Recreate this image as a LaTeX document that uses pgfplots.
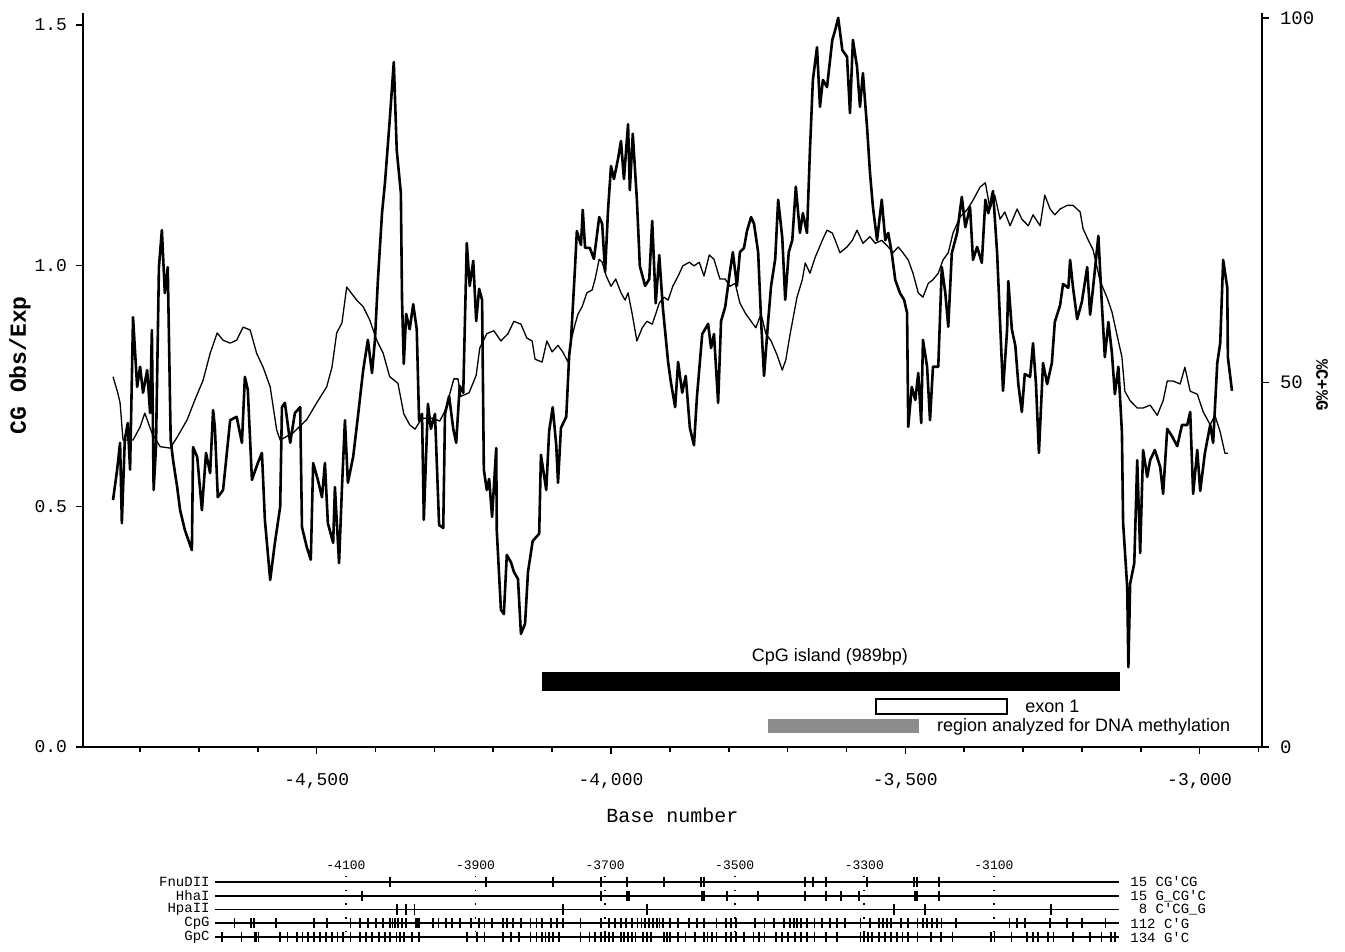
\documentclass[border=0pt]{standalone}
\usepackage{fontspec}
\setmainfont{Liberation Sans}
\setmonofont{Liberation Mono}
\usepackage{pgfplots}
\pgfplotsset{compat=1.18}
\begin{document}
\begin{tikzpicture}[x=1pt,y=1pt]
\path[use as bounding box] (0,0) rectangle (672.5,476);
% ---------------- main plot, left axis (CG Obs/Exp) ----------------
\begin{axis}[
  at={(41.5pt,102.5pt)}, anchor=south west,
  scale only axis, width=589.5pt, height=367pt,
  xmin=-4897, xmax=-2894, ymin=0, ymax=1.525,
  axis x line*=bottom, axis y line*=left,
  axis line style={-, line width=1.1pt},
  xtick={-4500,-4000,-3500,-3000},
  xticklabels={{-4,500},{-4,000},{-3,500},{-3,000}},
  minor xtick={-4800,-4700,-4600,-4400,-4300,-4200,-4100,-3900,-3800,-3700,-3600,-3400,-3300,-3200,-3100,-2900},
  ytick={0,0.5,1,1.5}, yticklabels={0.0,0.5,1.0,1.5},
  tick align=outside, major tick length=3.5pt, minor tick length=2.5pt,
  tick style={line width=0.8pt, black},
  ticklabel style={font=\ttfamily\fontsize{9}{10}\selectfont},
  xticklabel style={yshift=-6pt},
  yticklabel style={xshift=-1pt},
  clip=false,
  xlabel={Base number},
  every axis x label/.style={at={(axis description cs:0.5,0)}, anchor=center, yshift=-34pt, font=\ttfamily\fontsize{10}{12}\selectfont},
  ylabel={CG Obs/Exp},
  every axis y label/.style={at={(axis description cs:-0.0534,0.52)}, anchor=center, rotate=90, font=\ttfamily\bfseries\fontsize{11.5}{13}\selectfont},
]
\addplot[black, line width=1.3pt, line join=round] coordinates {
(-4846,0.513) (-4839,0.576) (-4834,0.632) (-4831,0.465) (-4826,0.638) (-4821,0.673) (-4817,0.576) (-4812,0.893)
(-4809,0.831) (-4805,0.748) (-4800,0.790) (-4795,0.736) (-4788,0.783) (-4783,0.694) (-4780,0.866) (-4777,0.534)
(-4773,0.623) (-4768,0.997) (-4763,1.074) (-4758,0.943) (-4753,0.997) (-4748,0.638) (-4744,0.596) (-4737,0.540)
(-4732,0.492) (-4724,0.451) (-4712,0.409) (-4710,0.623) (-4703,0.603) (-4695,0.492) (-4688,0.611) (-4681,0.569)
(-4676,0.700) (-4673,0.665) (-4668,0.519) (-4659,0.534) (-4647,0.679) (-4636,0.686) (-4627,0.632) (-4622,0.769)
(-4617,0.742) (-4610,0.555) (-4600,0.590) (-4593,0.611) (-4588,0.472) (-4579,0.347) (-4571,0.424) (-4562,0.499)
(-4559,0.706) (-4554,0.715) (-4545,0.632) (-4537,0.694) (-4528,0.706) (-4525,0.457) (-4517,0.416) (-4510,0.389)
(-4506,0.590) (-4498,0.555) (-4491,0.519) (-4486,0.590) (-4481,0.465) (-4472,0.424) (-4469,0.540) (-4462,0.382)
(-4457,0.540) (-4452,0.679) (-4447,0.549) (-4438,0.603) (-4430,0.686) (-4421,0.783) (-4413,0.846) (-4406,0.777)
(-4401,0.846) (-4396,0.970) (-4389,1.109) (-4384,1.172) (-4376,1.301) (-4369,1.423) (-4364,1.240) (-4357,1.151)
(-4355,0.929) (-4352,0.796) (-4348,0.900) (-4342,0.868) (-4336,0.920) (-4330,0.868) (-4326,0.677) (-4321,0.692)
(-4318,0.472) (-4311,0.713) (-4306,0.661) (-4299,0.692) (-4292,0.461) (-4285,0.455) (-4282,0.692) (-4275,0.729)
(-4268,0.661) (-4263,0.632) (-4257,0.750) (-4251,0.736) (-4245,1.047) (-4240,0.958) (-4234,1.010) (-4229,0.885)
(-4224,0.952) (-4219,0.929) (-4216,0.576) (-4211,0.534) (-4207,0.557) (-4202,0.478) (-4195,0.621) (-4194,0.449)
(-4187,0.285) (-4182,0.276) (-4177,0.399) (-4170,0.384) (-4165,0.364) (-4158,0.349) (-4153,0.235) (-4146,0.256)
(-4141,0.364) (-4133,0.428) (-4122,0.443) (-4119,0.607) (-4110,0.534) (-4105,0.657) (-4099,0.706) (-4093,0.627)
(-4090,0.549) (-4085,0.663) (-4076,0.686) (-4071,0.814) (-4068,0.844) (-4061,0.999) (-4058,1.072) (-4051,1.043)
(-4048,1.116) (-4044,1.037) (-4036,1.037) (-4029,1.014) (-4020,1.101) (-4015,1.087) (-4010,0.987) (-4005,1.116)
(-4000,1.207) (-3995,1.180) (-3988,1.222) (-3983,1.259) (-3978,1.180) (-3971,1.294) (-3968,1.157) (-3963,1.274)
(-3956,1.137) (-3951,0.999) (-3942,0.958) (-3935,0.972) (-3930,1.093) (-3924,0.922) (-3918,1.022) (-3912,0.914)
(-3903,0.800) (-3898,0.756) (-3891,0.706) (-3886,0.800) (-3879,0.736) (-3873,0.771) (-3866,0.663) (-3859,0.627)
(-3854,0.727) (-3845,0.858) (-3835,0.879) (-3830,0.829) (-3825,0.858) (-3818,0.715) (-3813,0.885) (-3806,0.914)
(-3798,0.987) (-3793,1.028) (-3786,0.958) (-3781,1.028) (-3774,1.037) (-3769,1.072) (-3762,1.101) (-3757,1.087)
(-3750,1.028) (-3745,0.885) (-3740,0.771) (-3733,0.885) (-3728,0.958) (-3721,1.014) (-3716,1.137) (-3709,1.058)
(-3704,0.929) (-3698,1.028) (-3692,1.053) (-3686,1.164) (-3679,1.068) (-3674,1.109) (-3667,1.068) (-3662,1.240)
(-3657,1.386) (-3650,1.454) (-3645,1.330) (-3640,1.386) (-3633,1.371) (-3624,1.469) (-3619,1.490) (-3614,1.515)
(-3607,1.448) (-3599,1.434) (-3594,1.317) (-3589,1.469) (-3582,1.413) (-3577,1.330) (-3572,1.400) (-3565,1.288)
(-3560,1.193) (-3555,1.122) (-3548,1.053) (-3540,1.137) (-3534,1.053) (-3529,1.068) (-3523,1.026) (-3517,0.970)
(-3509,0.943) (-3502,0.929) (-3497,0.902) (-3495,0.665) (-3489,0.748) (-3483,0.721) (-3478,0.777) (-3473,0.673)
(-3470,0.846) (-3463,0.790) (-3458,0.679) (-3453,0.790) (-3444,0.790) (-3438,0.997) (-3432,0.943) (-3427,0.873)
(-3421,1.026) (-3412,1.068) (-3404,1.143) (-3398,1.080) (-3390,1.122) (-3385,1.012) (-3378,1.039) (-3370,1.006)
(-3364,1.137) (-3359,1.109) (-3351,1.155) (-3344,1.026) (-3339,0.883) (-3334,0.740) (-3327,0.868) (-3325,0.968)
(-3319,0.868) (-3313,0.833) (-3308,0.754) (-3302,0.696) (-3297,0.775) (-3288,0.769) (-3283,0.839) (-3278,0.754)
(-3273,0.611) (-3266,0.798) (-3259,0.754) (-3251,0.798) (-3246,0.883) (-3237,0.918) (-3232,0.962) (-3223,0.954)
(-3220,1.012) (-3215,0.954) (-3208,0.889) (-3200,0.925) (-3191,0.997) (-3186,0.898) (-3181,0.954) (-3172,1.062)
(-3166,0.918) (-3161,0.810) (-3155,0.883) (-3149,0.819) (-3144,0.733) (-3138,0.790) (-3132,0.654) (-3130,0.467)
(-3123,0.332) (-3121,0.166) (-3118,0.339) (-3111,0.382) (-3106,0.596) (-3101,0.403) (-3096,0.617) (-3089,0.561)
(-3084,0.596) (-3076,0.617) (-3067,0.582) (-3062,0.526) (-3055,0.661) (-3047,0.646) (-3038,0.625) (-3030,0.669)
(-3021,0.669) (-3016,0.696) (-3011,0.526) (-3004,0.617) (-2999,0.532) (-2991,0.611) (-2982,0.669) (-2977,0.632)
(-2970,0.798) (-2965,0.839) (-2960,1.012) (-2953,0.954) (-2952,0.810) (-2945,0.740)
};
% annotation bars
\addplot[draw=black, fill=black] coordinates {(-4117,0.118) (-3137,0.118) (-3137,0.156) (-4117,0.156)} -- cycle;
\addplot[draw=black, fill=white, line width=0.8pt] coordinates {(-3550,0.069) (-3327,0.069) (-3327,0.100) (-3550,0.100)} -- cycle;
\addplot[draw=none, fill=black!45] coordinates {(-3733,0.029) (-3477,0.029) (-3477,0.058) (-3733,0.058)} -- cycle;
\node[font=\fontsize{9}{10}\selectfont] at (axis cs:-3628,0.187) {CpG island (989bp)};
\node[anchor=west, font=\fontsize{9}{10}\selectfont] at (axis cs:-3308,0.085) {exon 1};
\node[anchor=west, font=\fontsize{9}{10}\selectfont] at (axis cs:-3458,0.042) {region analyzed for DNA methylation};
\end{axis}
% ---------------- main plot, right axis (%C+%G) ----------------
\begin{axis}[
  at={(41.5pt,102.5pt)}, anchor=south west,
  scale only axis, width=589.5pt, height=367pt,
  xmin=-4897, xmax=-2894, ymin=0, ymax=100.69,
  axis x line=none, axis y line*=right,
  axis line style={-, line width=1.1pt},
  ytick={0,50,100}, yticklabels={0,50,100},
  tick align=outside, major tick length=3.5pt,
  tick style={line width=0.8pt, black},
  ticklabel style={font=\ttfamily\fontsize{9.5}{10}\selectfont},
  yticklabel style={xshift=2pt},
  clip=false,
]
\addplot[black, line width=0.65pt, line join=round] coordinates {
(-4846,50.8) (-4838,48.6) (-4834,47.2) (-4829,42.1) (-4812,42.1) (-4800,43.9) (-4792,45.8) (-4780,43.1)
(-4766,41.2) (-4749,41.0) (-4737,42.5) (-4720,44.9) (-4707,47.6) (-4693,50.3) (-4681,54.0) (-4669,56.8)
(-4659,55.8) (-4647,55.4) (-4636,55.8) (-4625,57.6) (-4613,57.2) (-4602,54.0) (-4591,52.1) (-4579,49.4)
(-4568,43.5) (-4562,42.1) (-4540,43.1) (-4517,44.9) (-4500,47.2) (-4483,49.4) (-4474,52.1) (-4466,56.8)
(-4457,58.2) (-4449,63.1) (-4432,61.3) (-4421,60.4) (-4410,58.6) (-4398,55.8) (-4387,54.0) (-4376,50.8)
(-4362,49.9) (-4352,45.7) (-4342,44.2) (-4333,43.6) (-4321,45.1) (-4302,45.1) (-4291,44.7) (-4282,46.1)
(-4275,48.1) (-4267,50.5) (-4260,50.5) (-4255,48.1) (-4241,48.6) (-4229,51.0) (-4223,54.7) (-4211,56.7)
(-4199,57.1) (-4187,55.7) (-4175,56.7) (-4165,58.4) (-4153,58.0) (-4143,56.1) (-4134,55.7) (-4129,53.2)
(-4117,52.8) (-4109,55.7) (-4100,54.2) (-4090,55.1) (-4082,54.2) (-4073,52.8) (-4068,55.7) (-4061,58.0)
(-4056,59.4) (-4049,60.4) (-4041,62.3) (-4032,62.7) (-4027,64.2) (-4020,66.9) (-4015,66.5) (-4008,64.6)
(-4000,63.2) (-3992,64.2) (-3983,62.3) (-3976,61.3) (-3971,62.3) (-3964,59.4) (-3956,55.7) (-3947,57.5)
(-3939,58.4) (-3930,58.0) (-3924,59.4) (-3918,60.9) (-3910,61.7) (-3903,61.3) (-3895,63.2) (-3886,64.6)
(-3878,66.0) (-3867,66.5) (-3859,66.0) (-3850,66.5) (-3842,64.6) (-3833,67.5) (-3825,66.9) (-3815,64.2)
(-3806,64.2) (-3798,63.2) (-3789,63.6) (-3781,60.9) (-3771,59.4) (-3762,58.4) (-3754,57.5) (-3745,59.4)
(-3737,56.7) (-3728,55.7) (-3718,53.8) (-3709,51.7) (-3703,53.1) (-3696,56.5) (-3684,61.7) (-3675,64.1)
(-3670,66.4) (-3662,65.0) (-3653,67.2) (-3641,69.5) (-3633,70.9) (-3624,70.5) (-3619,69.5) (-3611,67.8)
(-3599,68.6) (-3590,69.5) (-3582,70.9) (-3572,69.1) (-3560,70.0) (-3551,69.1) (-3540,69.5) (-3529,68.6)
(-3521,67.8) (-3512,68.6) (-3504,67.8) (-3495,66.8) (-3487,65.0) (-3478,62.3) (-3470,61.7) (-3461,63.6)
(-3453,64.1) (-3444,65.0) (-3436,66.8) (-3427,67.8) (-3419,70.5) (-3407,72.7) (-3395,73.7) (-3385,75.0)
(-3373,76.8) (-3364,77.4) (-3356,73.8) (-3348,75.7) (-3339,72.4) (-3331,73.4) (-3322,71.5) (-3310,73.8)
(-3302,72.4) (-3291,71.5) (-3283,73.0) (-3271,71.5) (-3263,75.7) (-3254,73.8) (-3246,73.0) (-3237,73.8)
(-3225,74.3) (-3215,74.3) (-3203,73.4) (-3198,71.1) (-3189,69.5) (-3181,68.2) (-3169,63.9) (-3157,61.6)
(-3149,59.7) (-3140,56.4) (-3132,53.5) (-3127,48.8) (-3118,47.5) (-3106,46.5) (-3096,46.5) (-3084,46.9)
(-3072,45.5) (-3062,47.5) (-3055,50.2) (-3045,50.2) (-3033,49.8) (-3025,52.1) (-3016,48.8) (-3004,48.4)
(-2994,46.0) (-2982,44.2) (-2974,45.5) (-2965,43.2) (-2957,40.3) (-2952,40.3)
};
\node[rotate=-90, anchor=center, font=\ttfamily\bfseries\fontsize{8.7}{10}\selectfont] at (axis description cs:1.0509,0.493) {\%C+\%G};
\end{axis}
% ---------------- restriction map ----------------
\begin{axis}[
  at={(107.5pt,4.05pt)}, anchor=south west,
  scale only axis, width=452pt, height=34.4pt,
  xmin=-4302, xmax=-2907, ymin=0.5, ymax=5.5,
  hide axis, clip=false,
]
\foreach \r in {1,...,5} {
  \addplot[black, line width=0.8pt] coordinates {(-4302,\r) (-2907,\r)};
}
\foreach \d in {-4100,-3900,-3700,-3500,-3300,-3100} {
  \addplot[black, line width=0.9pt, dash pattern=on 0.8pt off 6.08pt] coordinates {(\d,5.45) (\d,0.6)};
}
% FnuDII
\addplot[only marks, mark=|, mark size=2.6pt, mark options={line width=0.9pt}] coordinates {
(-4032,5) (-3884,5) (-3781,5) (-3706,5) (-3666,5) (-3609,5) (-3552,5) (-3548,5) (-3392,5) (-3379,5)
(-3359,5) (-3296,5) (-3223,5) (-3219,5) (-3185,5)};
% HhaI
\addplot[only marks, mark=|, mark size=2.6pt, mark options={line width=0.9pt}] coordinates {
(-4075,4) (-3706,4) (-3666,4) (-3663,4) (-3551,4) (-3548,4) (-3512,4) (-3464,4) (-3392,4) (-3359,4)
(-3336,4) (-3308,4) (-3222,4) (-3219,4) (-3185,4)};
% HpaII
\addplot[only marks, mark=|, mark size=2.6pt, mark options={line width=0.9pt}] coordinates {
(-4021,3) (-4007,3) (-3994,3) (-3765,3) (-3635,3) (-3254,3) (-3207,3) (-3012,3)};
% CpG
\addplot[only marks, mark=|, mark size=2.6pt, mark options={line width=0.9pt}] coordinates {
(-4272,2) (-4246,2) (-4242,2) (-4208,2) (-4149,2) (-4129,2) (-4093,2) (-4078,2) (-4066,2) (-4054,2)
(-4043,2) (-4032,2) (-4028,2) (-4024,2) (-4019,2) (-4014,2) (-4007,2) (-3992,2) (-3989,2) (-3987,2)
(-3966,2) (-3957,2) (-3945,2) (-3936,2) (-3924,2) (-3907,2) (-3895,2) (-3886,2) (-3874,2) (-3857,2)
(-3851,2) (-3842,2) (-3830,2) (-3815,2) (-3806,2) (-3798,2) (-3783,2) (-3774,2) (-3765,2) (-3738,2)
(-3706,2) (-3694,2) (-3685,2) (-3676,2) (-3668,2) (-3659,2) (-3650,2) (-3644,2) (-3638,2) (-3632,2)
(-3626,2) (-3620,2) (-3616,2) (-3611,2) (-3600,2) (-3588,2) (-3570,2) (-3558,2) (-3548,2) (-3528,2)
(-3513,2) (-3506,2) (-3498,2) (-3469,2) (-3454,2) (-3439,2) (-3424,2) (-3415,2) (-3409,2) (-3404,2)
(-3398,2) (-3389,2) (-3377,2) (-3365,2) (-3353,2) (-3342,2) (-3330,2) (-3306,2) (-3291,2) (-3277,2)
(-3271,2) (-3265,2) (-3259,2) (-3244,2) (-3232,2) (-3218,2) (-3210,2) (-3203,2) (-3196,2) (-3188,2)
(-3181,2) (-3158,2) (-3076,2) (-3064,2) (-3052,2) (-3014,2) (-2987,2) (-2964,2) (-2928,2)};
% GpC
\addplot[only marks, mark=|, mark size=2.6pt, mark options={line width=0.9pt}] coordinates {
(-4291,1) (-4261,1) (-4240,1) (-4238,1) (-4235,1) (-4202,1) (-4190,1) (-4175,1) (-4167,1) (-4158,1)
(-4149,1) (-4140,1) (-4131,1) (-4122,1) (-4113,1) (-4105,1) (-4093,1) (-4078,1) (-4069,1) (-4060,1)
(-4049,1) (-4040,1) (-4032,1) (-4022,1) (-4016,1) (-4010,1) (-3998,1) (-3987,1) (-3913,1) (-3898,1)
(-3886,1) (-3857,1) (-3845,1) (-3833,1) (-3815,1) (-3806,1) (-3798,1) (-3792,1) (-3786,1) (-3780,1)
(-3771,1) (-3738,1) (-3724,1) (-3715,1) (-3706,1) (-3700,1) (-3694,1) (-3688,1) (-3676,1) (-3671,1)
(-3665,1) (-3659,1) (-3653,1) (-3641,1) (-3635,1) (-3629,1) (-3609,1) (-3604,1) (-3600,1) (-3588,1)
(-3576,1) (-3561,1) (-3548,1) (-3542,1) (-3535,1) (-3528,1) (-3513,1) (-3506,1) (-3498,1) (-3486,1)
(-3471,1) (-3463,1) (-3454,1) (-3436,1) (-3427,1) (-3418,1) (-3407,1) (-3398,1) (-3389,1) (-3377,1)
(-3359,1) (-3342,1) (-3306,1) (-3300,1) (-3294,1) (-3288,1) (-3277,1) (-3268,1) (-3259,1) (-3250,1)
(-3241,1) (-3232,1) (-3218,1) (-3197,1) (-3182,1) (-3164,1) (-3105,1) (-3099,1) (-3073,1) (-3049,1)
(-3040,1) (-3032,1) (-3017,1) (-3008,1) (-2978,1) (-2952,1) (-2934,1) (-2919,1) (-2913,1)};
% labels
\begin{scope}[every node/.style={font=\ttfamily\fontsize{7}{8}\selectfont, inner sep=0pt}]
\node[anchor=east, xshift=-2.5pt] at (axis cs:-4302,5) {FnuDII};
\node[anchor=east, xshift=-2.5pt] at (axis cs:-4302,4) {HhaI};
\node[anchor=east, xshift=-2.5pt] at (axis cs:-4302,3) {HpaII};
\node[anchor=east, xshift=-2.5pt] at (axis cs:-4302,2) {CpG};
\node[anchor=east, xshift=-2.5pt] at (axis cs:-4302,1) {GpC};
\node[anchor=west, xshift=5.5pt] at (axis cs:-2907,5) {15 CG'CG};
\node[anchor=west, xshift=5.5pt] at (axis cs:-2907,4) {15 G\_CG'C};
\node[anchor=west, xshift=5.5pt] at (axis cs:-2907,3) {\phantom{1}8 C'CG\_G};
\node[anchor=west, xshift=5.5pt] at (axis cs:-2907,2) {112 C'G};
\node[anchor=west, xshift=5.5pt] at (axis cs:-2907,1) {134 G'C};
\end{scope}
\begin{scope}[every node/.style={font=\ttfamily\fontsize{6.5}{7}\selectfont, inner sep=0pt, anchor=south, yshift=2.5pt}]
\node at (axis cs:-4100,5.5) {-4100};
\node at (axis cs:-3900,5.5) {-3900};
\node at (axis cs:-3700,5.5) {-3700};
\node at (axis cs:-3500,5.5) {-3500};
\node at (axis cs:-3300,5.5) {-3300};
\node at (axis cs:-3100,5.5) {-3100};
\end{scope}
\end{axis}
\end{tikzpicture}
\end{document}
